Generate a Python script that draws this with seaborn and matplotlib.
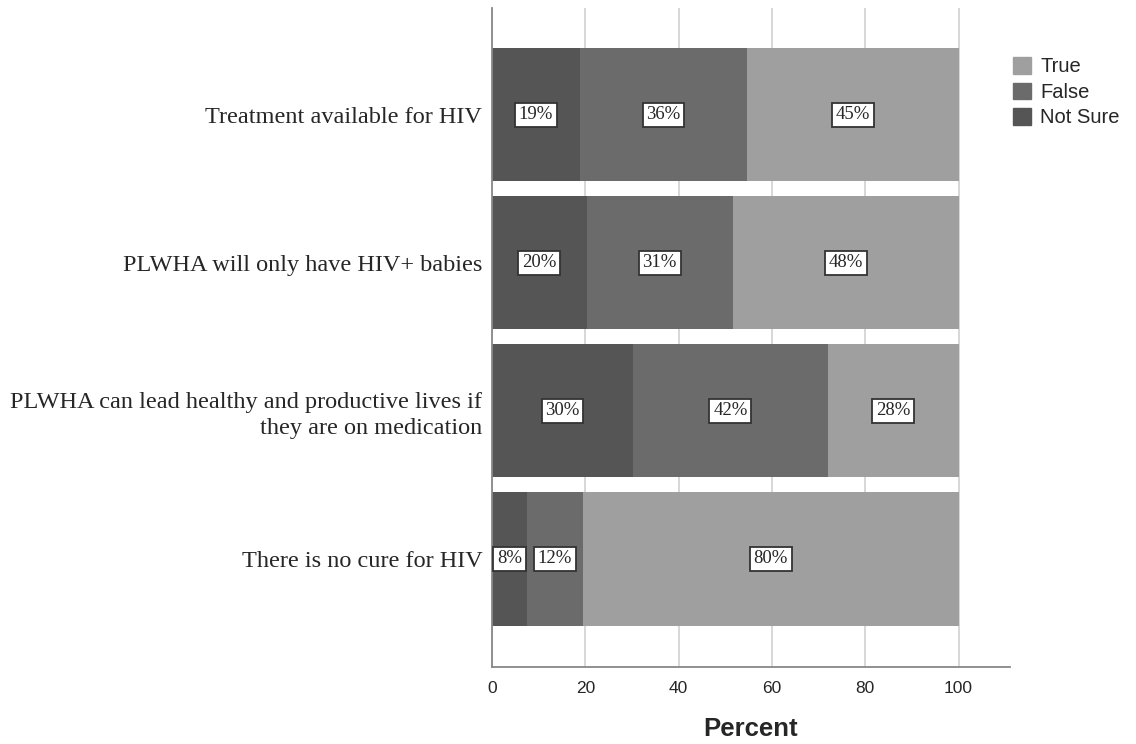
import matplotlib
matplotlib.use("Agg")
import matplotlib.pyplot as plt
import numpy as np
import pandas as pd
import seaborn as sns
from matplotlib.patches import Patch

# data (percent of respondents)
statements = [
    "Treatment available for HIV",
    "PLWHA will only have HIV+ babies",
    "PLWHA can lead healthy and productive lives if\nthey are on medication",
    "There is no cure for HIV",
]
not_sure = [18.9, 20.3, 30.2, 7.5]
false = [35.7, 31.3, 41.8, 12.0]
true = [45.4, 48.4, 28.0, 80.5]

answers = ["Not Sure", "False", "True"]
colors = {"True": "#9f9f9f", "False": "#6b6b6b", "Not Sure": "#555555"}

df = pd.DataFrame({"statement": statements, "Not Sure": not_sure,
                   "False": false, "True": true})
df["cum_ns"] = df["Not Sure"]
df["cum_f"] = df["Not Sure"] + df["False"]
df["cum_t"] = df["cum_f"] + df["True"]

sns.set_style("white")
fig = plt.figure(figsize=(11.36, 7.44), dpi=100)
ax = fig.add_axes([0.4331, 0.1035, 0.4559, 0.8855])

# stacked bars: draw the longest cumulative first
for col, ans in [("cum_t", "True"), ("cum_f", "False"), ("cum_ns", "Not Sure")]:
    sns.barplot(data=df, x=col, y="statement", orient="h", color=colors[ans],
                width=0.9, saturation=1, linewidth=0, ax=ax, zorder=2)

# segment labels
for i, row in df.iterrows():
    left = 0.0
    for ans in answers:
        v = row[ans]
        ax.text(left + v / 2, i, f"{v:.0f}%", ha="center", va="center",
                family="Liberation Serif", fontsize=13.5, zorder=4,
                bbox=dict(boxstyle="square,pad=0.2", fc="white",
                          ec="#333333", lw=1.3))
        left += v

ax.set_xlim(0, 111)
ax.set_ylim(3.73, -0.72)
ax.set_xticks([0, 20, 40, 60, 80, 100])
ax.xaxis.grid(True, color="#d4d4d4", lw=1.3, zorder=0)
ax.set_axisbelow(True)
for lbl in ax.get_xticklabels():
    lbl.set_family("Liberation Sans")
    lbl.set_fontsize(12.5)
ax.set_yticks(range(len(statements)))
ax.set_yticklabels(statements, family="Liberation Serif", fontsize=17.5,
                   multialignment="right", linespacing=1.3)
ax.tick_params(axis="x", length=0, pad=10)
ax.tick_params(axis="y", length=0, pad=7)
ax.set_xlabel("Percent", family="Liberation Sans", fontsize=18.5,
              fontweight="bold", labelpad=15)
ax.set_ylabel("")

for side in ["top", "right"]:
    ax.spines[side].set_visible(False)
for side in ["left", "bottom"]:
    ax.spines[side].set_color("#888888")
    ax.spines[side].set_linewidth(1.3)

handles = [Patch(color=colors[a], label=a) for a in ["True", "False", "Not Sure"]]
fig.legend(handles=handles, loc="upper left", bbox_to_anchor=(0.8845, 0.934),
           frameon=False, prop={"family": "Liberation Sans", "size": 14.5},
           handlelength=0.9, handleheight=0.9, handletextpad=0.45,
           labelspacing=0.3, borderaxespad=0)

fig.savefig("out.png", dpi=100)
